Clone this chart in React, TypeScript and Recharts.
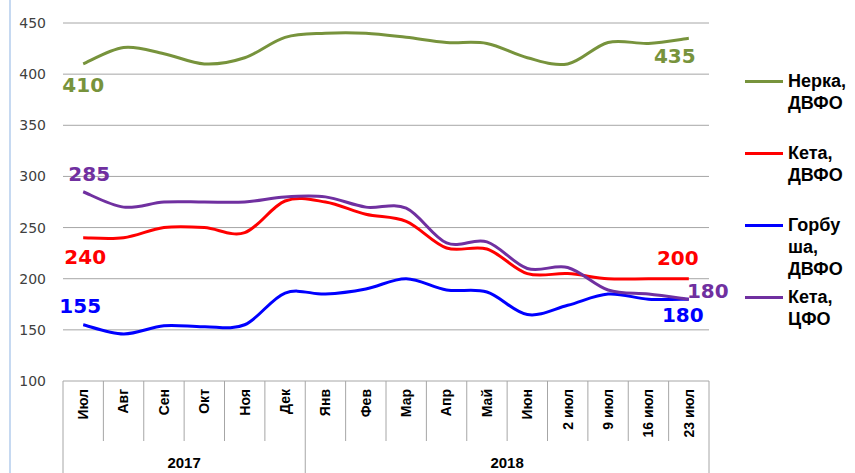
import React from 'react';
import { LineChart, Line, XAxis, YAxis, CartesianGrid, LabelList } from 'recharts';

// Категории (месяцы / недели)
const months = ['Июл', 'Авг', 'Сен', 'Окт', 'Ноя', 'Дек', 'Янв', 'Фев', 'Мар', 'Апр', 'Май', 'Июн', '2 июл', '9 июл', '16 июл', '23 июл'];
const years = [
  { label: '2017', count: 6 },
  { label: '2018', count: 10 },
];

const nerkaDvfo = [410, 426, 420, 410, 416, 436, 440, 440, 436, 431, 430, 416, 410, 431, 430, 435];
const ketaDvfo = [240, 240, 250, 250, 245, 276, 275, 263, 256, 230, 229, 205, 205, 200, 200, 200];
const gorbushaDvfo = [155, 146, 154, 153, 155, 186, 185, 190, 200, 189, 187, 165, 174, 185, 180, 180];
const ketaCfo = [285, 270, 275, 275, 275, 280, 280, 270, 269, 235, 236, 210, 211, 189, 185, 180];

const yTicks = [100, 150, 200, 250, 300, 350, 400, 450];

const data = months.map((m, i) => ({
  month: m,
  nerka: nerkaDvfo[i],
  ketaD: ketaDvfo[i],
  gorb: gorbushaDvfo[i],
  ketaC: ketaCfo[i],
}));

const series = [
  { key: 'nerka', name: 'Нерка, ДВФО', color: '#77933C', first: [0, 21], last: [-14, 18] },
  { key: 'ketaD', name: 'Кета, ДВФО', color: '#FF0000', first: [2, 19], last: [-11, -21] },
  { key: 'gorb', name: 'Горбуша, ДВФО', color: '#0000FF', first: [-3, -19], last: [-6, 16] },
  { key: 'ketaC', name: 'Кета, ЦФО', color: '#7030A0', first: [6, -18], last: [19, -8] },
];

const LINE = '#a6a6a6';

// сглаживание как в Excel (Catmull-Rom через кривые Безье)
const smoothCurve = (context: any) => {
  let pts: number[][] = [];
  return {
    areaStart() {},
    areaEnd() {},
    lineStart() {
      pts = [];
    },
    point(x: number, y: number) {
      pts.push([+x, +y]);
    },
    lineEnd() {
      if (!pts.length) return;
      context.moveTo(pts[0][0], pts[0][1]);
      for (let i = 0; i < pts.length - 1; i++) {
        const p0 = pts[i - 1] || pts[i];
        const p1 = pts[i];
        const p2 = pts[i + 1];
        const p3 = pts[i + 2] || p2;
        context.bezierCurveTo(
          p1[0] + (p2[0] - p0[0]) / 6,
          p1[1] + (p2[1] - p0[1]) / 6,
          p2[0] - (p3[0] - p1[0]) / 6,
          p2[1] - (p3[1] - p1[1]) / 6,
          p2[0],
          p2[1]
        );
      }
    },
  };
};

const makeEndLabel = (color: string, first: number[], last: number[]) => (props: any) => {
  const { x, y, width, value, index } = props;
  if (index !== 0 && index !== months.length - 1) return null;
  const off = index === 0 ? first : last;
  const cx = x + (width || 0) / 2;
  return (
    <text
      x={cx + off[0]}
      y={y + off[1]}
      textAnchor="middle"
      dominantBaseline="central"
      fill={color}
      fontFamily="DejaVu Sans"
      fontWeight="bold"
      fontSize={20}
    >
      {value}
    </text>
  );
};

const CategoryTick = (props: any) => {
  const { x, y, payload, index } = props;
  const half = payload && payload.offset ? payload.offset : 20.2;
  const top = y - 8;
  const rowEnd = top + 60;
  const bottom = 473;
  const parts: React.ReactNode[] = [];

  let start = 0;
  let isGroupStart = false;
  let yearLabel: string | null = null;
  years.forEach((g) => {
    if (index === start) isGroupStart = true;
    const mid = start + g.count / 2;
    if (Number.isInteger(mid) && index === mid - 1) yearLabel = g.label;
    start += g.count;
  });

  parts.push(
    <line key="l" x1={x - half} x2={x - half} y1={top} y2={isGroupStart ? bottom : rowEnd} stroke={LINE} strokeWidth={1} />
  );
  if (index === months.length - 1) {
    parts.push(<line key="r" x1={x + half} x2={x + half} y1={top} y2={bottom} stroke={LINE} strokeWidth={1} />);
  }
  if (yearLabel) {
    parts.push(
      <text key="y" x={x + half} y={462} textAnchor="middle" dominantBaseline="central" fontFamily="Liberation Sans" fontWeight="bold" fontSize={15} fill="#000">
        {yearLabel}
      </text>
    );
  }
  parts.push(
    <text
      key="t"
      x={x}
      y={y}
      transform={`rotate(-90 ${x} ${y})`}
      textAnchor="end"
      dy="0.35em"
      fontFamily="Liberation Sans"
      fontWeight="bold"
      fontSize={14}
      fill="#000"
    >
      {payload.value}
    </text>
  );
  return <g>{parts}</g>;
};

const LegendBox = () => (
  <div style={{ position: 'absolute', left: 745, top: 70, width: 110 }}>
    {series.map((s) => (
      <div key={s.key} style={{ height: 72, display: 'flex', alignItems: 'flex-start' }}>
        <div style={{ width: 38, height: 3, background: s.color, marginTop: 10, marginRight: 5, flexShrink: 0 }} />
        <div
          style={{
            width: 64,
            fontFamily: 'Liberation Sans',
            fontWeight: 'bold',
            fontSize: 18,
            lineHeight: '22px',
            color: '#000',
            overflowWrap: 'anywhere',
          }}
        >
          {s.name}
        </div>
      </div>
    ))}
  </div>
);

export default function App() {
  return (
    <div style={{ position: 'relative', width: 855, height: 473, background: '#fff' }}>
      <style>{`body{margin:0}`}</style>
      <div style={{ position: 'absolute', left: 9, top: 0, width: 2, height: 473, background: '#c6d9f1' }} />
      <LineChart width={855} height={473} data={data} margin={{ top: 23, right: 146, bottom: 0, left: 13 }}>
        <CartesianGrid vertical={false} stroke={LINE} />
        <XAxis
          dataKey="month"
          scale="band"
          interval={0}
          height={92}
          tickLine={false}
          axisLine={false}
          tick={<CategoryTick />}
        />
        <YAxis
          domain={[100, 450]}
          ticks={yTicks}
          width={50}
          tickLine={false}
          axisLine={false}
          tickMargin={11}
          tick={{ fontSize: 14, fill: '#404040', fontFamily: 'DejaVu Sans' }}
        />
        {series.map((s) => (
          <Line
            key={s.key}
            type={smoothCurve as any}
            dataKey={s.key}
            name={s.name}
            stroke={s.color}
            strokeWidth={3}
            dot={false}
            isAnimationActive={false}
          >
            <LabelList dataKey={s.key} content={makeEndLabel(s.color, s.first, s.last)} />
          </Line>
        ))}
      </LineChart>
      <LegendBox />
    </div>
  );
}
